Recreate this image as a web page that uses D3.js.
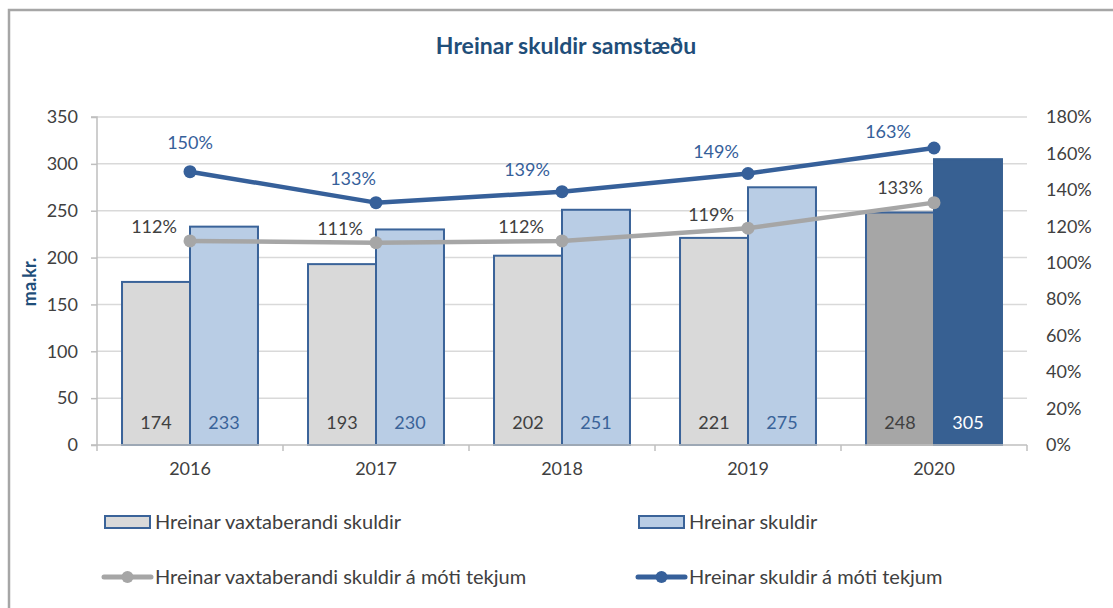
<!DOCTYPE html>
<html>
<head>
<meta charset="utf-8">
<script src="https://cdn.jsdelivr.net/npm/d3@7"></script>
<style>
  html, body { margin: 0; padding: 0; background: #fff; }
  svg { display: block; font-family: Lato, "Open Sans", sans-serif; }
</style>
</head>
<body>
<svg id="chart" width="1113" height="608"></svg>
<script>
// ---- data ----
const years = ["2016", "2017", "2018", "2019", "2020"];
const interestBearing = [174, 193, 202, 221, 248];     // Hreinar vaxtaberandi skuldir
const netDebt = [233, 230, 251, 275, 305];             // Hreinar skuldir
const interestBearingRatio = [1.12, 1.11, 1.12, 1.19, 1.33]; // á móti tekjum
const netDebtRatio = [1.50, 1.33, 1.39, 1.49, 1.63];         // á móti tekjum
const leftTicks = [0, 50, 100, 150, 200, 250, 300, 350];
const rightTicks = [0, 0.2, 0.4, 0.6, 0.8, 1.0, 1.2, 1.4, 1.6, 1.8];
const seriesNames = [
  "Hreinar vaxtaberandi skuldir",
  "Hreinar skuldir",
  "Hreinar vaxtaberandi skuldir á móti tekjum",
  "Hreinar skuldir á móti tekjum"
];

// ---- layout / style ----
const plot = { left: 97, right: 1027, top: 117, bottom: 445 };
const C = {
  gray: "#d9d9d9", grayDark: "#a6a6a6", lightBlue: "#b9cde5",
  blue: "#376092", border: "#3a6399", grid: "#d9d9d9", axis: "#bfbfbf",
  text: "#404040", lineBlue: "#36609a", lineGray: "#a6a6a6", title: "#1f4e79"
};
// label offsets (px) relative to marker point
const grayLabelOff = [[-36, -14], [-36, -14], [-41, -14], [-37, -13], [-34, -15]];
const blueLabelOff = [[0, -29], [-23, -24], [-35, -22], [-32, -22], [-46, -16]];

const svg = d3.select("#chart");

// outer border
svg.append("path").attr("d", "M9,620 V10 H1120")
  .attr("fill", "none").attr("stroke", "#a6a6a6").attr("stroke-width", 2.5);

// title
svg.append("text").attr("x", 566).attr("y", 54).attr("text-anchor", "middle")
  .attr("font-size", 23).attr("font-weight", "bold").attr("fill", C.title)
  .text("Hreinar skuldir samstæðu");

const x = d3.scaleBand().domain(years).range([plot.left, plot.right]).padding(0);
const xs = d3.scaleBand().domain([0, 1]).range([0, x.bandwidth()])
  .paddingInner(0).paddingOuter(0.368);
const yL = d3.scaleLinear().domain([0, 350]).range([plot.bottom, plot.top]);
const yR = d3.scaleLinear().domain([0, 1.8]).range([plot.bottom, plot.top]);

// gridlines
svg.append("g").selectAll("line").data(leftTicks.filter(d => d > 0)).join("line")
  .attr("x1", plot.left).attr("x2", plot.right)
  .attr("y1", d => yL(d)).attr("y2", d => yL(d))
  .attr("stroke", C.grid).attr("stroke-width", 1.5);

// left axis
const gL = svg.append("g").attr("transform", `translate(${plot.left},0)`)
  .call(d3.axisLeft(yL).tickValues(leftTicks).tickSize(6).tickPadding(13));
gL.select(".domain").attr("stroke", C.axis).attr("stroke-width", 1.5).attr("d", `M-6,${plot.top}H0V${plot.bottom}H-6`);
gL.selectAll(".tick line").attr("stroke", C.axis).attr("stroke-width", 1.5);
gL.selectAll(".tick text").attr("font-size", 18).attr("fill", C.text).attr("font-family", "Lato");

// right axis
const gR = svg.append("g").attr("transform", `translate(${plot.right},0)`)
  .call(d3.axisRight(yR).tickValues(rightTicks).tickSize(0).tickPadding(19)
    .tickFormat(d => Math.round(d * 100) + "%"));
gR.select(".domain").remove();
gR.selectAll(".tick text").attr("font-size", 18).attr("fill", C.text).attr("font-family", "Lato");

// bars
const barData = [];
years.forEach((yr, i) => {
  const last = i === years.length - 1;
  barData.push({ yr, k: 0, v: interestBearing[i], fill: last ? C.grayDark : C.gray, lab: C.text });
  barData.push({ yr, k: 1, v: netDebt[i], fill: last ? C.blue : C.lightBlue, lab: last ? "#ffffff" : C.border });
});
svg.append("g").selectAll("rect").data(barData).join("rect")
  .attr("x", d => x(d.yr) + xs(d.k))
  .attr("y", d => yL(d.v))
  .attr("width", xs.bandwidth())
  .attr("height", d => yL(0) - yL(d.v))
  .attr("fill", d => d.fill)
  .attr("stroke", d => (d.yr === "2020" ? d.fill : C.border))
  .attr("stroke-width", 2);
// 2020 gray bar has blue left/top edge
svg.append("path")
  .attr("d", `M${x("2020") + xs(0)},${yL(0)}V${yL(interestBearing[4])}H${x("2020") + xs(1)}`)
  .attr("fill", "none").attr("stroke", C.border).attr("stroke-width", 2);

// bottom axis
const gX = svg.append("g").attr("transform", `translate(0,${plot.bottom})`)
  .call(d3.axisBottom(x).tickSize(0).tickPadding(17));
gX.select(".domain").attr("stroke", C.axis).attr("stroke-width", 1.5)
  .attr("d", `M${plot.left},0H${plot.right}`);
gX.selectAll(".tick text").attr("font-size", 18).attr("fill", C.text).attr("font-family", "Lato");
svg.append("g").selectAll("line").data(years.concat(["end"])).join("line")
  .attr("x1", d => d === "end" ? plot.right : x(d))
  .attr("x2", d => d === "end" ? plot.right : x(d))
  .attr("y1", plot.bottom).attr("y2", plot.bottom + 6)
  .attr("stroke", C.axis).attr("stroke-width", 1.5);

// bar value labels
svg.append("g").selectAll("text").data(barData).join("text")
  .attr("x", d => x(d.yr) + xs(d.k) + xs.bandwidth() / 2)
  .attr("y", yL(0) - 16)
  .attr("text-anchor", "middle").attr("font-size", 18)
  .attr("fill", d => d.lab)
  .text(d => d.v);

// lines
const cx = yr => x(yr) + x.bandwidth() / 2;
function drawLine(vals, color, offs, labColor) {
  const pts = years.map((yr, i) => [cx(yr), yR(vals[i])]);
  svg.append("path").datum(pts).attr("d", d3.line())
    .attr("fill", "none").attr("stroke", color).attr("stroke-width", 4.5)
    .attr("stroke-linejoin", "round");
  svg.append("g").selectAll("circle").data(pts).join("circle")
    .attr("cx", d => d[0]).attr("cy", d => d[1]).attr("r", 6.5).attr("fill", color);
  svg.append("g").selectAll("text").data(pts).join("text")
    .attr("x", (d, i) => d[0] + offs[i][0])
    .attr("y", (d, i) => d[1] + offs[i][1])
    .attr("dy", "0.35em").attr("text-anchor", "middle").attr("font-size", 18)
    .attr("fill", labColor)
    .text((d, i) => Math.round(vals[i] * 100) + "%");
}
drawLine(interestBearingRatio, C.lineGray, grayLabelOff, C.text);
drawLine(netDebtRatio, C.lineBlue, blueLabelOff, C.lineBlue);

// y title
svg.append("text").attr("transform", "translate(36,282) rotate(-90)")
  .attr("text-anchor", "middle").attr("font-size", 18).attr("font-weight", "bold")
  .attr("fill", C.title).text("ma.kr.");

// legend
const legend = [
  { name: seriesNames[0], type: "bar", fill: C.gray, x: 104, y: 522 },
  { name: seriesNames[1], type: "bar", fill: C.lightBlue, x: 638, y: 522 },
  { name: seriesNames[2], type: "line", color: C.lineGray, x: 104, y: 577 },
  { name: seriesNames[3], type: "line", color: C.lineBlue, x: 638, y: 577 }
];
const lg = svg.append("g").selectAll("g").data(legend).join("g")
  .attr("transform", d => `translate(${d.x},${d.y})`);
lg.filter(d => d.type === "bar").append("rect")
  .attr("x", 1).attr("y", -6).attr("width", 45).attr("height", 12)
  .attr("fill", d => d.fill).attr("stroke", C.border).attr("stroke-width", 2);
lg.filter(d => d.type === "line").append("line")
  .attr("x1", 0).attr("x2", 47).attr("y1", 0).attr("y2", 0)
  .attr("stroke", d => d.color).attr("stroke-width", 5).attr("stroke-linecap", "round");
lg.filter(d => d.type === "line").append("circle")
  .attr("cx", 23.5).attr("cy", 0).attr("r", 6).attr("fill", d => d.color);
lg.append("text").attr("x", 51).attr("y", 0).attr("dy", "0.35em")
  .attr("font-size", 20).attr("fill", C.text).text(d => d.name);
</script>
</body>
</html>
